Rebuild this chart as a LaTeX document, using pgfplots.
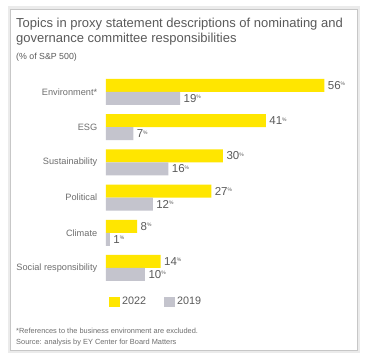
\documentclass[border=0pt]{standalone}
\usepackage{pgfplots}
\pgfplotsset{compat=1.18}
\usepackage{fontspec}
\setmainfont{Liberation Sans}
\definecolor{eyyellow}{HTML}{FFE600}
\definecolor{eygray}{HTML}{C4C4CD}
\definecolor{txt}{HTML}{5A5A5A}
\definecolor{lbl}{HTML}{6E6E6E}
\begin{document}
\begin{tikzpicture}[x=1pt,y=1pt]
\useasboundingbox (0,0) rectangle (365,359);
\fill[white] (0,0) rectangle (365,359);
\draw[black!8,line width=3pt] (9,7) rectangle (358,351);
\draw[black!22,line width=0.6pt,fill=white] (10,9) rectangle (357,350);
\node[anchor=base west,inner sep=0pt,text=txt,font=\fontsize{13}{15}\selectfont] at (16,331) {Topics in proxy statement descriptions of nominating and};
\node[anchor=base west,inner sep=0pt,text=txt,font=\fontsize{13}{15}\selectfont] at (16,316) {governance committee responsibilities};
\node[anchor=base west,inner sep=0pt,text=txt,font=\fontsize{8.8}{10}\selectfont] at (16,299) {(\% of S\&P 500)};
\node[anchor=base west,inner sep=0pt,text=lbl,font=\fontsize{7.4}{9}\selectfont] at (16,25) {*References to the business environment are excluded.};
\node[anchor=base west,inner sep=0pt,text=lbl,font=\fontsize{7.4}{9}\selectfont] at (16,14) {Source: analysis by EY Center for Board Matters};
\begin{axis}[
  at={(106pt,284.6pt)}, anchor=north west,
  scale only axis, width=234pt, height=211.2pt,
  xmin=0, xmax=60, ymin=-0.5, ymax=5.5,
  xbar, bar width=13pt, bar shift=0pt,
  axis line style={draw=none}, tick style={draw=none},
  xtick=\empty,
  ytick={0,1,2,3,4,5},
  yticklabels={Social responsibility,Climate,Political,Sustainability,ESG,Environment*},
  yticklabel style={text=lbl,font=\fontsize{9.2}{11}\selectfont,xshift=-1pt},
  /pgf/number format/assume math mode=true,
  nodes near coords={\pgfmathprintnumber{\pgfplotspointmeta}\raisebox{0.6ex}{\fontsize{5}{5}\selectfont\%}},
  point meta=x,
  nodes near coords style={anchor=west,text=txt,font=\fontsize{11.5}{13}\selectfont,xshift=0pt},
  legend columns=2,
  legend style={draw=none,fill=none,at={(0,-0.035)},anchor=north west,
    font=\fontsize{10.8}{12}\selectfont,text=txt,
    /tikz/every even column/.append style={column sep=16pt}},
  legend image code/.code={\fill[#1] (0pt,-5pt) rectangle (11pt,5pt);},
]
\addplot[draw=none,fill=eyyellow] coordinates {(56,5.1847) (41,4.1847) (30,3.1847) (27,2.1847) (8,1.1847) (14,0.1847)};
\addlegendentry{2022}
\addplot[draw=none,fill=eygray] coordinates {(19,4.8153) (7,3.8153) (16,2.8153) (12,1.8153) (1,0.8153) (10,-0.1847)};
\addlegendentry{2019}
\end{axis}
\end{tikzpicture}
\end{document}
